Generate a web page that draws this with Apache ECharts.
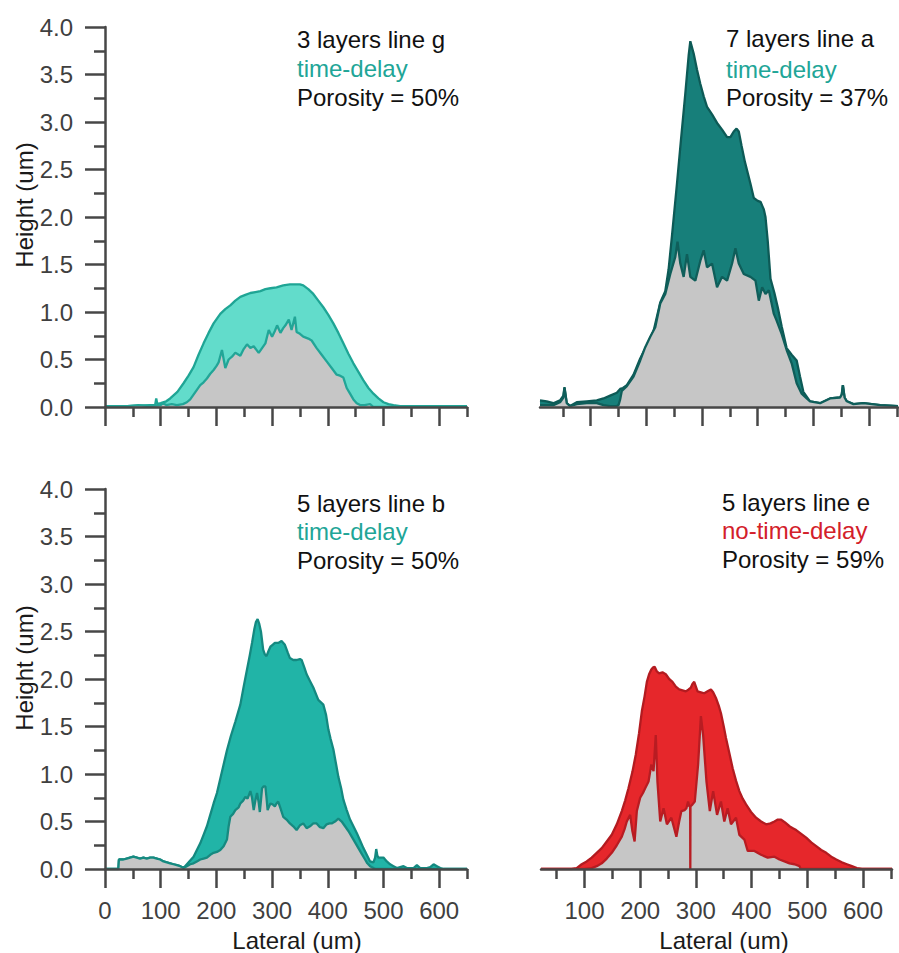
<!DOCTYPE html>
<html>
<head>
<meta charset="utf-8">
<script src="https://cdn.jsdelivr.net/npm/echarts@6/dist/echarts.min.js"></script>
<style>
  html, body { margin: 0; padding: 0; background: #ffffff; }
  #chart { width: 899px; height: 953px; }
</style>
</head>
<body>
<div id="chart"></div>
<script>
// ---------- Height profiles (lateral position in um, height in um) ----------

// 3 layers, line g
const gOuterX = [0, 40, 80, 90, 92, 94, 100, 110, 117, 130, 141, 150, 159, 168, 177, 186, 195, 207, 216, 225, 234, 243, 252, 261, 270, 279, 288, 297, 308, 320, 332, 344, 350, 356, 365, 374, 383, 392, 401, 410, 419, 428, 437, 446, 455, 464, 473, 482, 491, 500, 509, 518, 530, 560, 600, 650];
const gOuterY = [0.01, 0.01, 0.02, 0.02, 0.09, 0.03, 0.04, 0.06, 0.09, 0.16, 0.25, 0.33, 0.42, 0.55, 0.67, 0.78, 0.88, 0.98, 1.03, 1.07, 1.12, 1.16, 1.18, 1.20, 1.21, 1.22, 1.24, 1.25, 1.26, 1.28, 1.29, 1.29, 1.29, 1.28, 1.24, 1.19, 1.12, 1.05, 0.97, 0.88, 0.78, 0.67, 0.56, 0.46, 0.37, 0.28, 0.20, 0.14, 0.09, 0.05, 0.03, 0.02, 0.01, 0.01, 0.01, 0.01];
const gInnerX = [0, 40, 60, 80, 100, 104, 110, 120, 129, 140, 147, 153, 159, 165, 171, 177, 183, 189, 195, 200, 204, 210, 216, 222, 228, 234, 243, 249, 255, 261, 267, 276, 282, 288, 294, 300, 305, 309, 315, 320, 324, 330, 335, 341, 344, 350, 356, 365, 371, 380, 389, 398, 407, 416, 422, 428, 434, 440, 446, 452, 458, 466, 476, 482, 490, 650];
const gInnerY = [0.01, 0.01, 0.02, 0.01, 0.02, 0.04, 0.02, 0.03, 0.02, 0.03, 0.05, 0.08, 0.13, 0.18, 0.23, 0.26, 0.30, 0.35, 0.39, 0.43, 0.47, 0.60, 0.41, 0.50, 0.53, 0.57, 0.54, 0.61, 0.66, 0.62, 0.64, 0.57, 0.62, 0.67, 0.81, 0.74, 0.80, 0.86, 0.78, 0.83, 0.86, 0.92, 0.81, 0.95, 0.79, 0.77, 0.74, 0.72, 0.70, 0.62, 0.55, 0.48, 0.41, 0.34, 0.33, 0.31, 0.20, 0.14, 0.08, 0.04, 0.02, 0.02, 0.03, 0.00, 0.00, 0.00];

// 7 layers, line a
const aOuterX = [9, 21, 33, 45, 51, 53, 57, 63, 75, 93, 111, 123, 135, 147, 153, 158, 165, 177, 189, 201, 213, 225, 234, 240, 246, 255, 262, 270, 276, 279, 285, 291, 297, 303, 309, 318, 327, 336, 345, 351, 357, 362, 366, 371, 377, 387, 393, 400, 405, 411, 414, 418, 423, 430, 436, 443, 452, 461, 470, 476, 482, 494, 512, 530, 548, 551, 553, 556, 560, 572, 590, 620, 652];
const aOuterY = [0.07, 0.06, 0.04, 0.07, 0.12, 0.21, 0.04, 0.01, 0.05, 0.06, 0.07, 0.09, 0.12, 0.15, 0.19, 0.20, 0.23, 0.34, 0.51, 0.65, 0.80, 1.10, 1.22, 1.45, 1.80, 2.35, 2.80, 3.30, 3.70, 3.85, 3.72, 3.55, 3.40, 3.27, 3.16, 3.08, 2.99, 2.92, 2.84, 2.84, 2.90, 2.93, 2.90, 2.75, 2.58, 2.35, 2.20, 2.17, 2.16, 2.08, 2.00, 1.75, 1.35, 1.20, 1.05, 0.85, 0.62, 0.55, 0.49, 0.32, 0.16, 0.06, 0.04, 0.09, 0.10, 0.13, 0.23, 0.10, 0.06, 0.03, 0.04, 0.02, 0.01];
const aInnerX = [9, 21, 33, 45, 51, 53, 57, 63, 75, 93, 111, 123, 135, 147, 150, 153, 156, 165, 177, 189, 198, 207, 216, 225, 234, 243, 252, 256, 261, 267, 273, 279, 288, 297, 303, 309, 318, 327, 336, 345, 354, 360, 366, 375, 387, 396, 402, 408, 414, 420, 429, 434, 443, 452, 461, 470, 479, 488, 494, 512, 530, 548, 551, 553, 556, 560, 572, 590, 620, 652];
const aInnerY = [0.02, 0.02, 0.02, 0.05, 0.10, 0.20, 0.04, 0.01, 0.03, 0.04, 0.04, 0.02, 0.01, 0.01, 0.02, 0.08, 0.17, 0.22, 0.32, 0.49, 0.63, 0.74, 0.84, 1.09, 1.19, 1.40, 1.58, 1.74, 1.51, 1.37, 1.61, 1.37, 1.33, 1.54, 1.65, 1.47, 1.51, 1.26, 1.37, 1.33, 1.51, 1.67, 1.51, 1.40, 1.37, 1.33, 1.12, 1.26, 1.19, 1.23, 0.98, 0.91, 0.77, 0.60, 0.46, 0.25, 0.14, 0.09, 0.06, 0.04, 0.09, 0.10, 0.13, 0.23, 0.10, 0.06, 0.03, 0.04, 0.02, 0.01];

// 5 layers, line b
const bOuterX = [0, 24, 25, 33, 39, 45, 51, 57, 63, 69, 75, 81, 87, 93, 99, 105, 111, 117, 123, 129, 135, 141, 147, 153, 159, 165, 171, 177, 183, 189, 195, 201, 207, 213, 219, 226, 234, 243, 249, 255, 260, 264, 268, 271, 274, 277, 280, 284, 287, 290, 294, 297, 301, 305, 311, 317, 323, 328, 332, 338, 344, 350, 353, 358, 362, 368, 374, 383, 392, 397, 401, 405, 410, 415, 419, 424, 428, 434, 440, 446, 452, 458, 464, 470, 476, 482, 485, 487, 489, 491, 500, 506, 512, 518, 524, 530, 536, 542, 554, 560, 566, 578, 584, 590, 596, 602, 608, 650];
const bOuterY = [0, 0, 0.10, 0.10, 0.11, 0.12, 0.13, 0.12, 0.11, 0.12, 0.11, 0.12, 0.12, 0.11, 0.10, 0.08, 0.07, 0.06, 0.05, 0.04, 0.03, 0.01, 0.05, 0.09, 0.13, 0.20, 0.27, 0.36, 0.45, 0.57, 0.69, 0.80, 0.95, 1.10, 1.25, 1.40, 1.55, 1.73, 1.92, 2.10, 2.25, 2.38, 2.52, 2.60, 2.63, 2.58, 2.50, 2.31, 2.26, 2.24, 2.30, 2.34, 2.36, 2.38, 2.38, 2.40, 2.36, 2.28, 2.22, 2.20, 2.20, 2.21, 2.20, 2.12, 2.05, 1.98, 1.91, 1.78, 1.73, 1.62, 1.47, 1.37, 1.26, 1.10, 0.97, 0.85, 0.73, 0.62, 0.52, 0.45, 0.38, 0.30, 0.22, 0.15, 0.08, 0.07, 0.12, 0.21, 0.14, 0.12, 0.12, 0.08, 0.05, 0.03, 0.01, 0.02, 0.03, 0.01, 0.01, 0.04, 0.01, 0.01, 0.02, 0.05, 0.03, 0.01, 0, 0];
const bInnerX = [0, 24, 25, 33, 39, 45, 51, 57, 63, 69, 75, 81, 87, 93, 99, 105, 111, 117, 123, 129, 135, 141, 147, 153, 159, 165, 171, 177, 183, 189, 195, 201, 207, 213, 219, 222, 225, 230, 234, 240, 243, 248, 252, 256, 261, 264, 267, 270, 273, 276, 278, 280, 282, 285, 288, 290, 292, 294, 297, 301, 305, 308, 311, 315, 320, 326, 332, 338, 344, 350, 356, 362, 368, 374, 380, 386, 392, 398, 403, 407, 413, 419, 425, 431, 437, 443, 449, 455, 461, 467, 471, 476, 482, 486, 650];
const bInnerY = [0, 0, 0.10, 0.10, 0.11, 0.12, 0.13, 0.12, 0.11, 0.12, 0.11, 0.12, 0.12, 0.11, 0.10, 0.08, 0.07, 0.06, 0.05, 0.04, 0.03, 0.01, 0.03, 0.05, 0.06, 0.08, 0.10, 0.11, 0.12, 0.15, 0.17, 0.18, 0.20, 0.24, 0.31, 0.45, 0.55, 0.58, 0.62, 0.65, 0.69, 0.72, 0.76, 0.74, 0.82, 0.75, 0.62, 0.72, 0.80, 0.70, 0.60, 0.72, 0.85, 0.87, 0.87, 0.75, 0.62, 0.65, 0.69, 0.68, 0.66, 0.69, 0.71, 0.64, 0.55, 0.52, 0.48, 0.45, 0.41, 0.46, 0.48, 0.43, 0.45, 0.48, 0.48, 0.44, 0.43, 0.47, 0.48, 0.48, 0.50, 0.53, 0.50, 0.45, 0.40, 0.34, 0.28, 0.22, 0.16, 0.10, 0.06, 0.03, 0.01, 0, 0];

// 5 layers, line e
const eOuterX = [22, 60, 77, 86, 95, 104, 113, 122, 131, 140, 149, 158, 167, 173, 179, 186, 192, 198, 203, 208, 212, 216, 220, 223, 226, 230, 234, 240, 246, 252, 258, 264, 270, 276, 282, 287, 291, 294, 297, 300, 303, 309, 315, 321, 327, 331, 336, 341, 345, 350, 354, 360, 366, 372, 378, 384, 390, 399, 408, 417, 426, 434, 441, 447, 453, 460, 468, 474, 480, 489, 498, 507, 516, 525, 534, 543, 552, 562, 571, 580, 589, 598, 652];
const eOuterY = [0, 0, 0, 0.01, 0.05, 0.08, 0.12, 0.17, 0.22, 0.29, 0.36, 0.47, 0.61, 0.72, 0.85, 1.02, 1.20, 1.43, 1.66, 1.82, 1.97, 2.05, 2.10, 2.12, 2.13, 2.08, 2.06, 2.07, 2.05, 2.00, 1.97, 1.92, 1.89, 1.88, 1.87, 1.89, 1.91, 1.95, 1.97, 1.92, 1.87, 1.86, 1.85, 1.87, 1.89, 1.86, 1.80, 1.72, 1.64, 1.50, 1.38, 1.22, 1.06, 0.93, 0.82, 0.74, 0.68, 0.60, 0.54, 0.50, 0.47, 0.48, 0.50, 0.52, 0.52, 0.49, 0.45, 0.43, 0.41, 0.37, 0.33, 0.28, 0.24, 0.20, 0.17, 0.13, 0.10, 0.07, 0.05, 0.03, 0.01, 0, 0];
const eInnerX = [22, 100, 113, 122, 131, 140, 149, 158, 167, 172, 176, 182, 186, 190, 194, 200, 205, 209, 215, 220, 224, 228, 231, 236, 242, 248, 256, 265, 270, 274, 280, 283, 286, 288, 289.7, 290, 290.3, 294, 298, 304, 309, 313, 319, 325, 331, 338, 345, 351, 357, 363, 372, 378, 387, 393, 405, 417, 429, 441, 450, 459, 468, 477, 486, 488, 652];
const eInnerY = [0, 0, 0.01, 0.03, 0.06, 0.11, 0.17, 0.25, 0.34, 0.42, 0.50, 0.57, 0.40, 0.29, 0.61, 0.75, 0.80, 0.85, 0.92, 1.10, 1.03, 1.41, 0.92, 0.50, 0.64, 0.47, 0.54, 0.34, 0.50, 0.61, 0.62, 0.64, 0.71, 0.66, 0.66, 0, 0.66, 0.68, 0.71, 1.10, 1.61, 1.41, 0.92, 0.61, 0.82, 0.57, 0.71, 0.50, 0.64, 0.47, 0.54, 0.36, 0.31, 0.19, 0.19, 0.15, 0.12, 0.13, 0.10, 0.08, 0.06, 0.05, 0.03, 0, 0];

// ---------- Axis ticks ----------
const heightTicks = [0, 0.5, 1.0, 1.5, 2.0, 2.5, 3.0, 3.5, 4.0];
const lateralMajor = [0, 100, 200, 300, 400, 500, 600];
const lateralMinor = [50, 150, 250, 350, 450, 550, 650];

// ---------- Panel annotations ----------
const panelTitles = ['3 layers line g', '7 layers line a', '5 layers line b', '5 layers line e'];
const panelModes = ['time-delay', 'time-delay', 'time-delay', 'no-time-delay'];
const panelPorosity = ['Porosity = 50%', 'Porosity = 37%', 'Porosity = 50%', 'Porosity = 59%'];

// ---------- Styling ----------
const FONT = '"Liberation Sans", Arial, Helvetica, sans-serif';
const FONT_SIZE = 24;
const AXIS_COLOR = '#474747';
const LABEL_COLOR = '#3f3f3f';
const GRAY = '#c6c6c6';

const panels = [
  { grid: { left: 105, top: 27, width: 362, height: 380 }, xMin: 0, xMax: 650, showY: true, showXLabels: false,
    outer: [gOuterX, gOuterY], inner: [gInnerX, gInnerY], fill: '#62dccb', edge: '#1fa595', innerEdge: '#22a597',
    text: { x: 297, y: [39, 68, 97] }, accent: '#21a597' },
  { grid: { left: 540, top: 27, width: 358, height: 380 }, xMin: 9, xMax: 652, showY: false, showXLabels: false,
    outer: [aOuterX, aOuterY], inner: [aInnerX, aInnerY], fill: '#177f7a', edge: '#0d5a56', innerEdge: '#0f5e5a',
    text: { x: 726, y: [38, 69, 97] }, accent: '#21a597' },
  { grid: { left: 105, top: 489, width: 362, height: 380 }, xMin: 0, xMax: 650, showY: true, showXLabels: true,
    outer: [bOuterX, bOuterY], inner: [bInnerX, bInnerY], fill: '#21b4a7', edge: '#148980', innerEdge: '#168a80',
    text: { x: 297, y: [503, 531, 560] }, accent: '#21a597' },
  { grid: { left: 541, top: 489, width: 351, height: 380 }, xMin: 22, xMax: 652, showY: false, showXLabels: true,
    outer: [eOuterX, eOuterY], inner: [eInnerX, eInnerY], fill: '#e6272b', edge: '#b31b20', innerEdge: '#b81c22',
    text: { x: 722, y: [502, 530, 559] }, accent: '#d3202a' }
];

function pairs(xs, ys) {
  return xs.map(function (x, i) { return [x, ys[i]]; });
}
function within(values, lo, hi) {
  return values.filter(function (v) { return v >= lo && v <= hi; });
}

const grids = [], xAxes = [], yAxes = [], series = [], graphics = [];
const tickLine = { color: AXIS_COLOR, width: 2.5 };

panels.forEach(function (p, i) {
  grids.push(Object.assign({ containLabel: false }, p.grid));

  // axis carrying the line and the short (50 um) ticks
  xAxes.push({
    gridIndex: i, type: 'value', min: p.xMin, max: p.xMax, position: 'bottom', z: 5,
    axisLine: { show: true, onZero: false, lineStyle: tickLine },
    axisTick: { show: true, inside: false, length: 10, lineStyle: tickLine,
                customValues: within(lateralMinor, p.xMin, p.xMax) },
    axisLabel: { show: false },
    splitLine: { show: false }
  });
  // axis carrying the long (100 um) ticks and the labels
  xAxes.push({
    gridIndex: i, type: 'value', min: p.xMin, max: p.xMax, position: 'bottom', z: 5,
    axisLine: { show: false, onZero: false },
    axisTick: { show: true, inside: false, length: 19, lineStyle: tickLine,
                customValues: within(lateralMajor, p.xMin, p.xMax) },
    axisLabel: { show: p.showXLabels, margin: 29, fontSize: FONT_SIZE, fontFamily: FONT, color: LABEL_COLOR,
                 customValues: within(lateralMajor, p.xMin, p.xMax), formatter: function (v) { return String(v); } },
    splitLine: { show: false }
  });

  if (p.showY) {
    yAxes.push({
      gridIndex: i, type: 'value', min: 0, max: 4, interval: 0.5, z: 5,
      axisLine: { show: true, lineStyle: tickLine },
      axisTick: { show: true, inside: false, length: 20, lineStyle: tickLine, customValues: heightTicks },
      minorTick: { show: true, splitNumber: 2, length: 11, lineStyle: tickLine },
      axisLabel: { show: true, margin: 32, fontSize: FONT_SIZE, fontFamily: FONT, color: LABEL_COLOR,
                   customValues: heightTicks, formatter: function (v) { return v.toFixed(1); } },
      splitLine: { show: false }
    });
  } else {
    yAxes.push({ gridIndex: i, type: 'value', min: 0, max: 4, show: false, splitLine: { show: false } });
  }

  series.push({
    type: 'line', xAxisIndex: 2 * i, yAxisIndex: i, data: pairs(p.outer[0], p.outer[1]),
    symbol: 'none', showSymbol: false, silent: true, z: 2,
    lineStyle: { color: p.edge, width: 2.3 },
    areaStyle: { color: p.fill, opacity: 1 }
  });
  series.push({
    type: 'line', xAxisIndex: 2 * i, yAxisIndex: i, data: pairs(p.inner[0], p.inner[1]),
    symbol: 'none', showSymbol: false, silent: true, z: 3,
    lineStyle: { color: p.innerEdge, width: 2.3 },
    areaStyle: { color: GRAY, opacity: 1 }
  });

  const lines = [panelTitles[i], panelModes[i], panelPorosity[i]];
  lines.forEach(function (t, k) {
    graphics.push({
      type: 'text', x: p.text.x, y: p.text.y[k], z: 10,
      style: { text: t, fill: k === 1 ? p.accent : '#111111', fontSize: FONT_SIZE, fontFamily: FONT,
               align: 'left', verticalAlign: 'middle' }
    });
  });
});

// axis titles
const heightTitle = 'Height (um)';
const lateralTitle = 'Lateral (um)';
[[24, 205], [24, 668]].forEach(function (pos) {
  graphics.push({ type: 'text', x: pos[0], y: pos[1], rotation: Math.PI / 2, z: 10,
    style: { text: heightTitle, fill: '#1a1a1a', fontSize: FONT_SIZE, fontFamily: FONT, align: 'center', verticalAlign: 'middle' } });
});
[[297, 940], [724, 940]].forEach(function (pos) {
  graphics.push({ type: 'text', x: pos[0], y: pos[1], z: 10,
    style: { text: lateralTitle, fill: '#1a1a1a', fontSize: FONT_SIZE, fontFamily: FONT, align: 'center', verticalAlign: 'middle' } });
});

const chart = echarts.init(document.getElementById('chart'), null, { renderer: 'svg' });
chart.setOption({
  animation: false,
  backgroundColor: '#ffffff',
  grid: grids,
  xAxis: xAxes,
  yAxis: yAxes,
  series: series,
  graphic: graphics
});
</script>
</body>
</html>
